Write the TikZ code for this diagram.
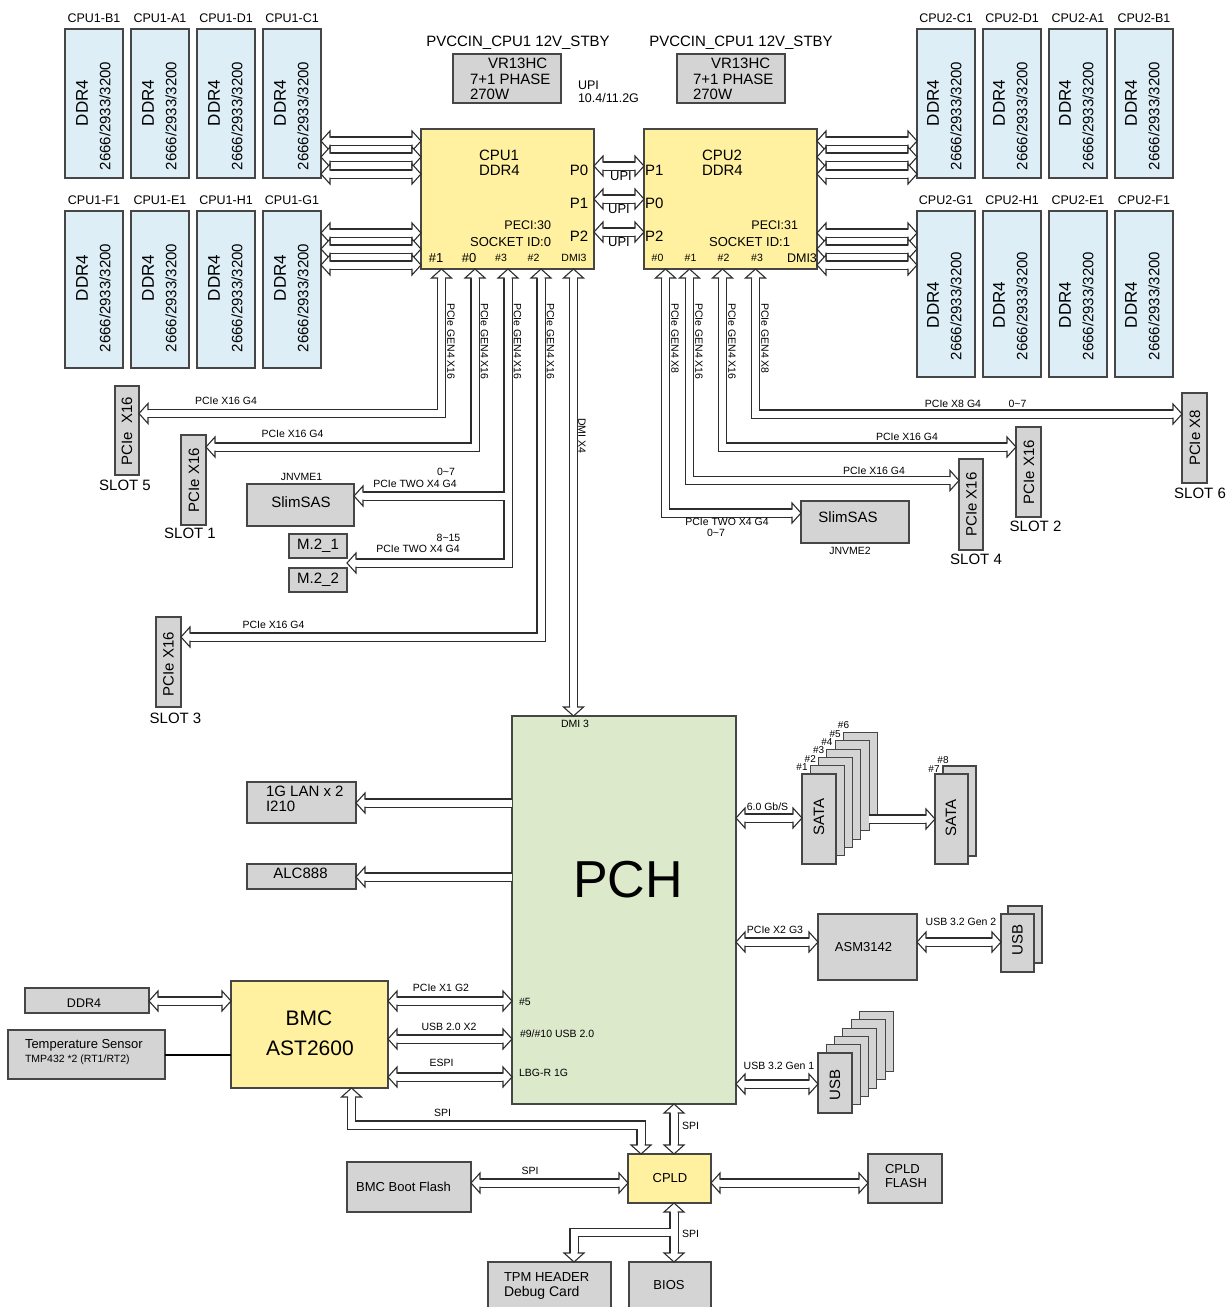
\documentclass[tikz,border=0pt]{standalone}
\usepackage{fontspec}
\setmainfont{Liberation Sans}
\usetikzlibrary{arrows.meta}
\definecolor{dimmc}{RGB}{221,238,246}
\definecolor{cpuc}{RGB}{255,241,160}
\definecolor{pchc}{RGB}{221,233,203}
\definecolor{grayc}{RGB}{212,212,212}
\definecolor{edgec}{RGB}{70,70,70}
\definecolor{busc}{RGB}{45,45,45}
\pgfdeclarearrow{
  name = BusTip,
  parameters = {bt},
  setup code = {
    \pgfarrowssettipend{0pt}
    \pgfarrowssetlineend{-9pt}
    \pgfarrowssetbackend{-9pt}
    \pgfarrowssetvisualbackend{-9pt}
    \pgfarrowshullpoint{0pt}{0pt}
    \pgfarrowsupperhullpoint{-9pt}{10pt}
  },
  drawing code = {
    \pgfsetlinewidth{1.1pt}
    \pgfsetdash{}{0pt}
    \pgfsetmiterjoin
    \pgfsetbuttcap
    \pgfsetfillcolor{white}
    \pgfpathmoveto{\pgfpoint{-9pt}{10pt}}
    \pgfpathlineto{\pgfpointorigin}
    \pgfpathlineto{\pgfpoint{-9pt}{-10pt}}
    \pgfpathclose
    \pgfusepathqfill
    \pgfsetstrokecolor{busc}
    \pgfpathmoveto{\pgfpoint{-9pt}{3.5pt}}
    \pgfpathlineto{\pgfpoint{-9pt}{10pt}}
    \pgfpathlineto{\pgfpointorigin}
    \pgfpathlineto{\pgfpoint{-9pt}{-10pt}}
    \pgfpathlineto{\pgfpoint{-9pt}{-3.5pt}}
    \pgfusepathqstroke
  }
}
\newcommand\mkbox[6]{\node[#1, minimum width={(#5)-(#3)}, minimum height={(#6)-(#4)}] (#2) at ({((#3)+(#5))/2},{((#4)+(#6))/2}) {};}
\begin{document}
\begin{tikzpicture}[x=1pt,y=-1pt,
  every node/.style={inner sep=0pt, outer sep=0pt},
  bx/.style={rectangle, draw=edgec, line width=1.1pt},
  dimm/.style={bx, fill=dimmc},
  cpub/.style={bx, fill=cpuc},
  pchb/.style={bx, fill=pchc},
  gbox/.style={bx, fill=grayc},
  bus/.style={draw=busc, line width=1.1pt, double=white, double distance=7pt, line join=miter},
  busboth/.style={bus, {BusTip}-{BusTip}},
  busone/.style={bus, -{BusTip}},
  t10/.style={font=\fontsize{10}{12}\selectfont},
  t105/.style={font=\fontsize{10.5}{12}\selectfont},
  t125/.style={font=\fontsize{12.5}{14}\selectfont},
  t13/.style={font=\fontsize{13}{15}\selectfont},
  t14/.style={font=\fontsize{14}{16}\selectfont},
  t15/.style={font=\fontsize{15}{17}\selectfont},
  t17/.style={font=\fontsize{17}{19}\selectfont},
  t21/.style={font=\fontsize{21}{24}\selectfont},
  t52/.style={font=\fontsize{52}{56}\selectfont},
]
\useasboundingbox (0,0) rectangle (1226,1307);

% ---------------- DIMMs ----------------
\foreach \n/\x in {B1/65,A1/131,D1/197,C1/263}{
  \mkbox{dimm}{d\n}{\x}{29}{\x+58}{178}
  \node[t125] at ({\x+29},18) {CPU1-\n};
  \node[t17, rotate=90] at ({\x+17},103) {DDR4};
  \node[t15, rotate=90] at ({\x+40},116) {2666/2933/3200};
}
\foreach \n/\x in {F1/65,E1/131,H1/197,G1/263}{
  \mkbox{dimm}{d\n}{\x}{211}{\x+58}{368}
  \node[t125] at ({\x+29},200) {CPU1-\n};
  \node[t17, rotate=90] at ({\x+17},278) {DDR4};
  \node[t15, rotate=90] at ({\x+40},298) {2666/2933/3200};
}
\foreach \n/\x in {C1/917,D1/983,A1/1049,B1/1115}{
  \mkbox{dimm}{e\n}{\x}{29}{\x+58}{178}
  \node[t125] at ({\x+29},18) {CPU2-\n};
  \node[t17, rotate=90] at ({\x+16},103) {DDR4};
  \node[t15, rotate=90] at ({\x+39},116) {2666/2933/3200};
}
\foreach \n/\x in {G1/917,H1/983,E1/1049,F1/1115}{
  \mkbox{dimm}{e\n}{\x}{211}{\x+58}{377}
  \node[t125] at ({\x+29},200) {CPU2-\n};
  \node[t17, rotate=90] at ({\x+16},305) {DDR4};
  \node[t15, rotate=90] at ({\x+39},306) {2666/2933/3200};
}

% ---------------- VR ----------------
\node[t15] (pv1) at (518,43) {PVCCIN\_CPU1 12V\_STBY};
\node[t15] (pv2) at (741,43) {PVCCIN\_CPU1 12V\_STBY};
\mkbox{gbox}{vr1}{453}{54}{561}{103}
\mkbox{gbox}{vr2}{677}{54}{785}{103}
\node[t15, anchor=west] at (488,63) {VR13HC};
\node[t15, anchor=west] at (470,79) {7+1 PHASE};
\node[t15, anchor=west] at (470,94) {270W};
\node[t15, anchor=west] at (711,63) {VR13HC};
\node[t15, anchor=west] at (693,79) {7+1 PHASE};
\node[t15, anchor=west] at (693,94) {270W};
\node[t125, anchor=west] at (578,85) {UPI};
\node[t125, anchor=west] at (578,98) {10.4/11.2G};

% ---------------- CPUs ----------------
\mkbox{cpub}{cpu1}{421}{129}{594}{269}
\mkbox{cpub}{cpu2}{644}{129}{817}{269}

% ---------------- left devices ----------------
\mkbox{gbox}{slot5}{115}{386}{139}{475}
\mkbox{gbox}{slot1}{181}{435}{206}{525}
\mkbox{gbox}{slot3}{156}{617}{181}{707}
\mkbox{gbox}{sas1}{247}{484}{354}{526}
\mkbox{gbox}{m21}{289}{534}{347}{558}
\mkbox{gbox}{m22}{289}{568}{347}{592}

% ---------------- right devices ----------------
\mkbox{gbox}{slot6}{1182}{393}{1207}{483}
\mkbox{gbox}{slot2}{1016}{427}{1041}{517}
\mkbox{gbox}{slot4}{959}{459}{983}{550}
\mkbox{gbox}{sas2}{801}{501}{909}{543}

% ---------------- PCH ----------------
\mkbox{pchb}{pch}{512}{716}{736}{1104}
\mkbox{gbox}{lan}{247}{782}{356}{823}
\mkbox{gbox}{alc}{247}{864}{356}{889}
\foreach \k in {5,4,3,2,1,0}{
  \mkbox{gbox}{sata\k}{802+8.3*\k}{774-8.3*\k}{836+8.3*\k}{864-8.3*\k}
}
\mkbox{gbox}{satb1}{943}{766}{976}{856}
\mkbox{gbox}{satb0}{935}{774}{968}{864}
\mkbox{gbox}{asm}{818}{914}{917}{980}
\mkbox{gbox}{usbb}{1008}{906}{1042}{963}
\mkbox{gbox}{usbf}{1001}{914}{1034}{972}
\foreach \k in {5,4,3,2,1,0}{
  \mkbox{gbox}{usb\k}{818+8.3*\k}{1053-8.3*\k}{852+8.3*\k}{1113-8.3*\k}
}

% ---------------- BMC and below ----------------
\mkbox{gbox}{ddr}{25}{988}{149}{1013}
\mkbox{gbox}{temp}{8}{1030}{165}{1079}
\mkbox{cpub}{bmc}{231}{981}{388}{1088}
\mkbox{gbox}{bflash}{347}{1162}{471}{1212}
\mkbox{cpub}{cpld}{628}{1154}{711}{1203}
\mkbox{gbox}{cflash}{868}{1154}{942}{1203}
\mkbox{gbox}{tpm}{488}{1262}{611}{1315}
\mkbox{gbox}{bios}{629}{1262}{711}{1315}

% ---------------- connectors ----------------
\foreach \y in {141,157,174}{
  \draw[busboth] (dC1.east |- 0,\y) -- (cpu1.west |- 0,\y);
  \draw[busboth] (cpu2.east |- 0,\y) -- (eC1.west |- 0,\y);
}
\foreach \y in {233,249,265}{
  \draw[busboth] (dG1.east |- 0,\y) -- (cpu1.west |- 0,\y);
  \draw[busboth] (cpu2.east |- 0,\y) -- (eG1.west |- 0,\y);
}
\foreach \y in {166,199,232}{
  \draw[busboth] (cpu1.east |- 0,\y) -- (cpu2.west |- 0,\y);
}
% CPU1 downwards
\draw[busboth] (cpu1.south -| 441.5,0) |- (slot5.east |- 0,413.5);
\draw[busboth] (cpu1.south -| 475,0) |- (slot1.east |- 0,447);
\draw[busboth] (cpu1.south -| 508,0) |- (m21.east |- 0,563);
\coordinate (br1) at (504.5,496);
\draw[busone] (br1) -- (sas1.east |- 0,496);
\draw[busboth] (cpu1.south -| 541,0) |- (slot3.east |- 0,637);
\draw[busboth] (cpu1.south -| 573.5,0) -- (pch.north -| 573.5,0);
% CPU2 downwards
\draw[busboth] (cpu2.south -| 755.5,0) |- (slot6.west |- 0,414);
\draw[busboth] (cpu2.south -| 722.5,0) |- (slot2.west |- 0,447);
\draw[busboth] (cpu2.south -| 689.5,0) |- (slot4.west |- 0,480.5);
\draw[busboth] (cpu2.south -| 665.5,0) |- (sas2.west |- 0,513);
% PCH left
\draw[busone] (pch.west |- 0,803) -- (lan.east |- 0,803);
\draw[busone] (pch.west |- 0,877) -- (alc.east |- 0,877);
% PCH right
\draw[busboth] (pch.east |- 0,818) -- (sata0.west |- 0,818);
\draw[busone] (sata4.east |- 0,819) -- (satb0.west |- 0,819);
\draw[busboth] (pch.east |- 0,942) -- (asm.west |- 0,942);
\draw[busboth] (asm.east |- 0,942) -- (usbf.west |- 0,942);
\draw[busboth] (pch.east |- 0,1084) -- (usb0.west |- 0,1084);
% BMC
\draw[busboth] (ddr.east |- 0,1001) -- (bmc.west |- 0,1001);
\draw[line width=2pt, black] (temp.east |- 0,1055) -- (bmc.west |- 0,1055);
\foreach \y in {1001,1039,1077}{
  \draw[busboth] (bmc.east |- 0,\y) -- (pch.west |- 0,\y);
}
\coordinate (spic) at (641,1125);
\draw[busboth] (bmc.south -| 351.5,0) |- (spic) -- (cpld.north -| 641,0);
\draw[busboth] (pch.south -| 674,0) -- (cpld.north -| 674,0);
\draw[busboth] (bflash.east |- 0,1183) -- (cpld.west |- 0,1183);
\draw[busboth] (cpld.east |- 0,1183) -- (cflash.west |- 0,1183);
\draw[busboth] (cpld.south -| 674,0) -- (bios.north -| 674,0);
\coordinate (br2) at (670.5,1232.5);
\draw[busone] (br2) -| (tpm.north -| 574,0);

% ---------------- texts ----------------
% CPU1
\node[t15, anchor=west] at (479,155) {CPU1};
\node[t15, anchor=west] at (479,170) {DDR4};
\node[t15] at (579,170) {P0};
\node[t15] at (579,203) {P1};
\node[t15] at (579,236) {P2};
\node[t125, anchor=east] at (551,225) {PECI:30};
\node[t13, anchor=east] at (551,242) {SOCKET ID:0};
\node[t13] at (436,258) {\#1};
\node[t13] at (469,258) {\#0};
\node[t105] at (501,258) {\#3};
\node[t105] at (533.5,258) {\#2};
\node[t105] at (574,258) {DMI3};
% CPU2
\node[t15, anchor=west] at (702,155) {CPU2};
\node[t15, anchor=west] at (702,170) {DDR4};
\node[t15, anchor=west] at (645,170) {P1};
\node[t15, anchor=west] at (645,203) {P0};
\node[t15, anchor=west] at (645,236) {P2};
\node[t125, anchor=east] at (798,225) {PECI:31};
\node[t13, anchor=east] at (790,242) {SOCKET ID:1};
\node[t105] at (657.5,258) {\#0};
\node[t105] at (690.5,258) {\#1};
\node[t105] at (723.5,258) {\#2};
\node[t105] at (757,258) {\#3};
\node[t125] at (802,258) {DMI3};
% UPI
\node[t13] at (621,176) {UPI};
\node[t13] at (619,209) {UPI};
\node[t13] at (619,242) {UPI};
% vertical labels
\node[t105, rotate=-90, anchor=west] at (451,303) {PCIe GEN4 X16};
\node[t105, rotate=-90, anchor=west] at (484.5,303) {PCIe GEN4 X16};
\node[t105, rotate=-90, anchor=west] at (517.5,303) {PCIe GEN4 X16};
\node[t105, rotate=-90, anchor=west] at (550.5,303) {PCIe GEN4 X16};
\node[t105, rotate=-90, anchor=west] at (582,418) {DMI X4};
\node[t105, rotate=-90, anchor=west] at (675,303) {PCIe GEN4 X8};
\node[t105, rotate=-90, anchor=west] at (699,303) {PCIe GEN4 X16};
\node[t105, rotate=-90, anchor=west] at (732,303) {PCIe GEN4 X16};
\node[t105, rotate=-90, anchor=west] at (765,303) {PCIe GEN4 X8};
% left device texts
\node[t15, rotate=90] at (127,431) {PCIe\ \ X16};
\node[t15] at (125,485) {SLOT 5};
\node[t15, rotate=90] at (194,480) {PCIe X16};
\node[t15] at (190,533) {SLOT 1};
\node[t15, rotate=90] at (168.5,664) {PCIe X16};
\node[t15] at (175.5,718) {SLOT 3};
\node[t15] at (301,502) {SlimSAS};
\node[t105] at (301.5,477) {JNVME1};
\node[t15] at (318,546) {M.2\_1};
\node[t15] at (318,580) {M.2\_2};
\node[t105] at (226,401) {PCIe X16 G4};
\node[t105] at (292.5,434) {PCIe X16 G4};
\node[t105] at (446,472) {0\textasciitilde7};
\node[t105] at (415,484) {PCIe TWO X4 G4};
\node[t105] at (448.5,538) {8\textasciitilde15};
\node[t105] at (418,549) {PCIe TWO X4 G4};
\node[t105] at (273.5,625) {PCIe X16 G4};
% right device texts
\node[t15, rotate=90] at (1195,438) {PCIe X8};
\node[t15] at (1200,493) {SLOT 6};
\node[t15, rotate=90] at (1029,472) {PCIe X16};
\node[t15] at (1035.5,526) {SLOT 2};
\node[t15, rotate=90] at (971.5,504.5) {PCIe X16};
\node[t15] at (976,559) {SLOT 4};
\node[t15] at (848,517) {SlimSAS};
\node[t105] at (850,551) {JNVME2};
\node[t105] at (953,404) {PCIe X8 G4};
\node[t105] at (1017.5,404) {0\textasciitilde7};
\node[t105] at (907,437) {PCIe X16 G4};
\node[t105] at (874,470.5) {PCIe X16 G4};
\node[t105] at (727,522) {PCIe TWO X4 G4};
\node[t105] at (716,533) {0\textasciitilde7};
% PCH texts
\node[t52] at (628,880) {PCH};
\node[t105] at (575,724) {DMI 3};
\node[t15, anchor=west] at (266,791) {1G LAN x 2};
\node[t15, anchor=west] at (266,806) {I210};
\node[t15] at (300.5,873) {ALC888};
\foreach \k/\m in {0/1,1/2,2/3,3/4,4/5,5/6}{
  \node[t10] at ({802+8.3*\k},{767-8.3*\k}) {\#\m};
}
\node[t10] at (934,769) {\#7};
\node[t10] at (943,760) {\#8};
\node[t15, rotate=90] at (819,817) {SATA};
\node[t15, rotate=90] at (951,818) {SATA};
\node[t105] at (767.5,807) {6.0 Gb/S};
\node[t13] at (863.5,947) {ASM3142};
\node[t105] at (775,930) {PCIe X2 G3};
\node[t105] at (961,922) {USB 3.2 Gen 2};
\node[t15, rotate=90] at (1017.5,940) {USB};
\node[t15, rotate=90] at (835,1085) {USB};
\node[t105] at (779,1066) {USB 3.2 Gen 1};
% BMC texts
\node[t125] at (84,1003) {DDR4};
\node[t13, anchor=west] at (25,1045) {Temperature Sensor};
\node[t105, anchor=west] at (25,1060) {TMP432 *2 (RT1/RT2)};
\node[t21] at (309,1018) {BMC};
\node[t21] at (310,1048) {AST2600};
\node[t105] at (441,988) {PCIe X1 G2};
\node[t105] at (449,1027) {USB 2.0 X2};
\node[t105] at (441.5,1063) {ESPI};
\node[t105, anchor=west] at (519,1002) {\#5};
\node[t105, anchor=west] at (520,1034) {\#9/\#10 USB 2.0};
\node[t105, anchor=west] at (519,1073) {LBG-R 1G};
\node[t105] at (442.5,1113) {SPI};
\node[t105] at (690.5,1126) {SPI};
\node[t105] at (530,1171) {SPI};
\node[t105] at (690.5,1234) {SPI};
\node[t13] at (403.5,1187) {BMC Boot Flash};
\node[t13] at (670,1178) {CPLD};
\node[t13, anchor=west] at (885,1169) {CPLD};
\node[t13, anchor=west] at (885,1183) {FLASH};
\node[t13, anchor=west] at (504,1277) {TPM HEADER};
\node[t14, anchor=west] at (504,1293) {Debug Card};
\node[t13] at (669,1285) {BIOS};
\end{tikzpicture}
\end{document}
